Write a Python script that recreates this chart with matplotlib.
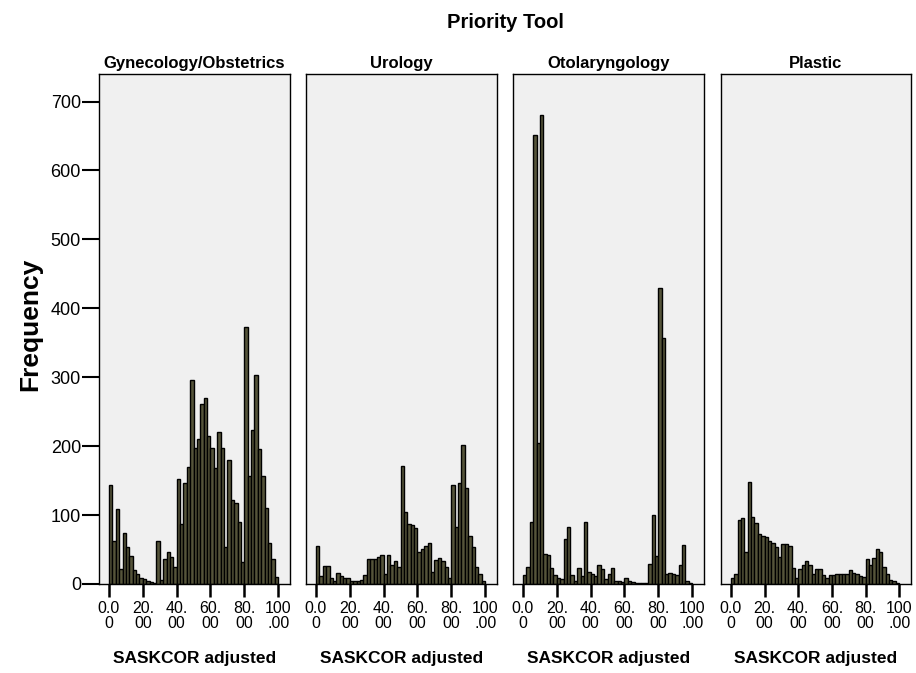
import matplotlib
matplotlib.use("Agg")
import matplotlib.pyplot as plt
import numpy as np

plt.rcParams['font.family'] = ['Liberation Sans', 'DejaVu Sans']

# histogram bins: width 2, left edges 0, 2, ..., 98
bin_left = np.arange(0, 100, 2)

gynecology = [143, 62, 109, 22, 74, 53, 40, 20, 14, 8,
              7, 5, 3, 2, 63, 6, 37, 46, 39, 25,
              152, 87, 147, 170, 296, 198, 210, 261, 270, 215,
              198, 168, 221, 198, 54, 180, 122, 117, 90, 32,
              373, 157, 224, 303, 196, 156, 110, 59, 37, 10]

urology = [55, 12, 26, 26, 8, 4, 16, 12, 9, 8,
           5, 4, 5, 6, 13, 37, 37, 36, 39, 42,
           15, 42, 28, 34, 24, 171, 105, 87, 85, 81,
           46, 51, 55, 59, 17, 35, 38, 33, 25, 9,
           144, 82, 147, 201, 139, 69, 53, 25, 15, 5]

otolaryngology = [13, 24, 90, 652, 204, 680, 44, 42, 23, 13,
                  9, 7, 65, 83, 13, 4, 23, 12, 90, 17,
                  15, 11, 28, 22, 7, 15, 23, 4, 4, 3,
                  8, 5, 3, 2, 1, 1, 1, 29, 100, 40,
                  430, 357, 15, 16, 14, 13, 28, 56, 4, 1]

plastic = [9, 15, 93, 96, 47, 148, 97, 88, 73, 70,
           68, 63, 59, 53, 39, 58, 58, 55, 23, 9,
           22, 28, 34, 27, 15, 22, 22, 13, 9, 13,
           13, 14, 14, 14, 15, 20, 16, 15, 12, 10,
           36, 28, 38, 51, 46, 24, 15, 6, 4, 2]

panel_titles = ['Gynecology/Obstetrics', 'Urology', 'Otolaryngology', 'Plastic']
panel_data = [gynecology, urology, otolaryngology, plastic]

x_ticks = [0, 20, 40, 60, 80, 100]
x_ticklabels = ['0.0\n0', '20.\n00', '40.\n00', '60.\n00', '80.\n00', '100\n.00']
y_ticks = [0, 100, 200, 300, 400, 500, 600, 700]

W, H = 916, 673
fig = plt.figure(figsize=(W / 100, H / 100), dpi=100)


def px_rect(left, right, top, bottom):
    return [left / W, 1 - bottom / H, (right - left) / W, (bottom - top) / H]


lefts = [99, 306, 513, 721]
rights = [290, 497, 704, 911]
top, bottom = 74, 584

for i in range(4):
    ax = fig.add_axes(px_rect(lefts[i], rights[i], top, bottom))
    ax.set_facecolor('#f0f0f0')
    ax.bar(bin_left + 1, panel_data[i], width=2, align='center',
           color='#55543a', edgecolor='black', linewidth=1.0)
    ax.set_xlim(-5.9, 107)
    ax.set_ylim(0, 740)
    ax.set_xticks(x_ticks)
    ax.set_xticklabels(x_ticklabels, fontsize=11.5, linespacing=1.05)
    ax.tick_params(axis='x', direction='out', length=9, width=1.8, pad=3)
    for s in ax.spines.values():
        s.set_linewidth(1.0)
        s.set_color('black')
    if i == 0:
        ax.set_yticks(y_ticks)
        ax.set_yticklabels([str(v) for v in y_ticks], fontsize=13)
        ax.tick_params(axis='y', direction='out', length=12, width=1.5, pad=1)
    else:
        ax.set_yticks([])
    ax.set_title(panel_titles[i], fontsize=12, fontweight='bold', pad=4)
    cx = (lefts[i] + rights[i]) / 2
    fig.text(cx / W, 1 - 659 / H, 'SASKCOR adjusted', ha='center', va='center',
             fontsize=12.5, fontweight='bold')

fig.text(505 / W, 1 - 22 / H, 'Priority Tool', ha='center', va='center',
         fontsize=14.5, fontweight='bold')
fig.text(30 / W, 1 - 324 / H, 'Frequency', ha='center', va='center',
         rotation=90, fontsize=19, fontweight='bold')

fig.savefig('out.png', dpi=100)
